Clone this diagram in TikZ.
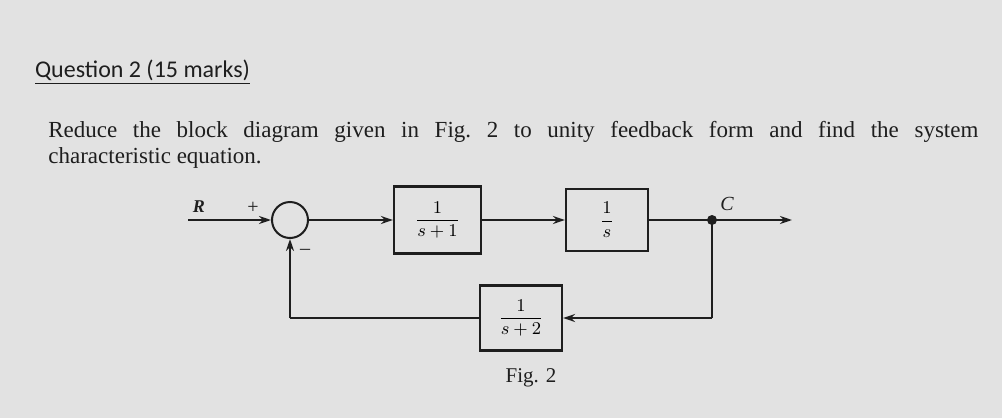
\documentclass[tikz,border=0pt]{standalone}
\usepackage{fontspec}
\setmainfont{Liberation Serif}
\newfontfamily\titlefont{Carlito}
\usetikzlibrary{arrows.meta}
\definecolor{paper}{HTML}{E2E2E2}
\definecolor{ink}{HTML}{1E1E1E}
\begin{document}
\begin{tikzpicture}[x=0.5pt,y=-0.5pt,
  blk/.style={draw=ink,line width=1.1pt,fill=paper,inner sep=0pt,font=\fontsize{9.5}{11}\selectfont},
  ln/.style={draw=ink,line width=1pt},
  arr/.style={ln,-{Stealth[length=6pt,width=4pt]}},
  lbl/.style={text=ink,font=\fontsize{10}{12}\selectfont}]
\fill[paper] (0,0) rectangle (1002,418);
\useasboundingbox (0,0) rectangle (1002,418);
\node[anchor=west,text=ink,font=\titlefont\fontsize{12}{14}\selectfont] (title) at (28,72) {\underline{Question 2 (15 marks)}};
\node[anchor=north west,text=ink,text width=465pt,align=justify,inner sep=0pt,font=\fontsize{11.5}{13}\selectfont] (para) at (48,121)
 {Reduce the block diagram given in Fig.~2 to unity feedback form and find the system\linebreak characteristic equation.};
\node[draw=ink,line width=1pt,circle,minimum size=18pt,inner sep=0pt] (sum) at (290,220) {};
\node[blk,minimum width=43.5pt,minimum height=33.5pt] (g1) at (437.5,220) {$\displaystyle\frac{1}{s+1}$};
\node[blk,minimum width=41pt,minimum height=31pt] (g2) at (607,220) {$\displaystyle\frac{1}{s}$};
\node[blk,minimum width=41pt,minimum height=32.5pt] (h) at (521,318) {$\displaystyle\frac{1}{s+2}$};
\coordinate (rin) at (188,220);
\coordinate (cpt) at (712,220);
\coordinate (out) at (792,220);
\coordinate (br) at (712,318);
\coordinate (bl) at (290,318);
\fill[ink] (cpt) circle (2.5pt);
\node[lbl,font=\bfseries\itshape\fontsize{9}{10}\selectfont] (rl) at (199,207) {R};
\node[lbl,font=\itshape\fontsize{10}{12}\selectfont] (cl) at (727,204) {C};
\node[lbl] (plus) at (253,208) {+};
\node[lbl] (minus) at (305,252) {--};
\draw[arr] (rin) -- (sum.west);
\draw[arr] (sum.east) -- (g1.west);
\draw[arr] (g1.east) -- (g2.west);
\draw[arr] (g2.east) -- (out);
\draw[ln] (cpt) -- (br);
\draw[arr] (br) -- (h.east);
\draw[ln] (h.west) -- (bl);
\draw[arr] (bl) -- (sum.south);
\node[lbl,font=\fontsize{10.5}{12}\selectfont] (fig) at (531,378) {Fig. 2};
\end{tikzpicture}
\end{document}
